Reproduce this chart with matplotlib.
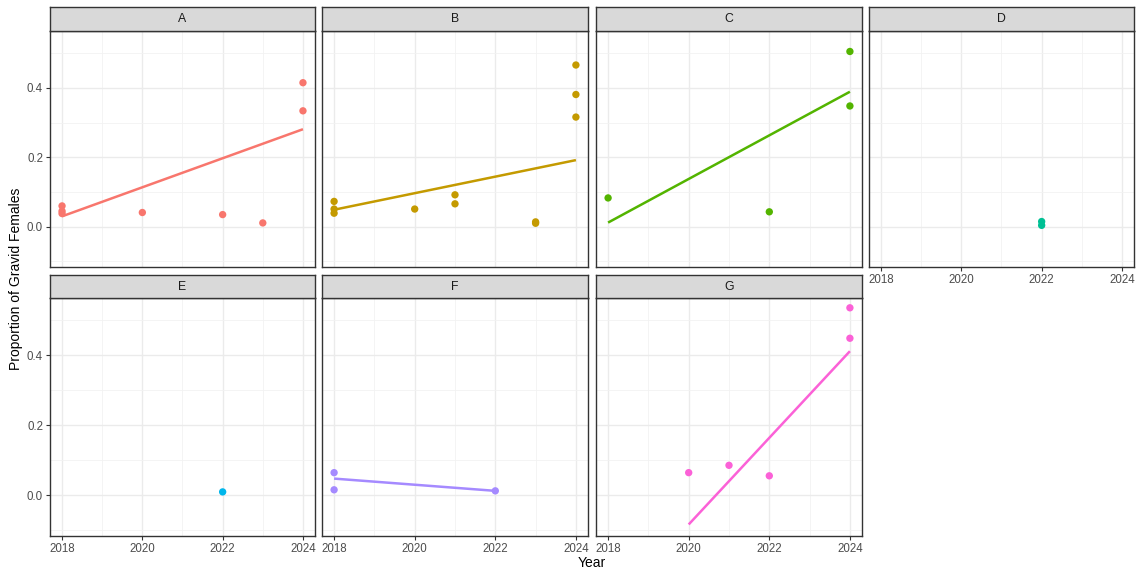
import matplotlib
matplotlib.use("Agg")
import matplotlib.pyplot as plt
import numpy as np

plt.rcParams['font.family'] = ['Liberation Sans', 'DejaVu Sans']

# ---- data ----
panels = ["A", "B", "C", "D", "E", "F", "G"]
colors = ["#F8766D", "#C49A00", "#53B400", "#00C094", "#00B6EB", "#A58AFF", "#FB61D7"]

years_A = [2018, 2018, 2018, 2020, 2022, 2023, 2024, 2024]
prop_A = [0.060, 0.045, 0.038, 0.041, 0.035, 0.011, 0.415, 0.334]
years_B = [2018, 2018, 2018, 2020, 2021, 2021, 2023, 2023, 2024, 2024, 2024]
prop_B = [0.073, 0.051, 0.039, 0.051, 0.092, 0.066, 0.014, 0.010, 0.466, 0.381, 0.316]
years_C = [2018, 2022, 2024, 2024]
prop_C = [0.083, 0.043, 0.505, 0.348]
years_D = [2022, 2022]
prop_D = [0.015, 0.004]
years_E = [2022]
prop_E = [0.010]
years_F = [2018, 2018, 2022]
prop_F = [0.065, 0.016, 0.013]
years_G = [2020, 2021, 2022, 2024, 2024]
prop_G = [0.065, 0.086, 0.056, 0.536, 0.449]

# fitted trend lines (start year, end year, start value, end value); None = no trend
trend_A = (2018, 2024, 0.030, 0.281)
trend_B = (2018, 2024, 0.049, 0.192)
trend_C = (2018, 2024, 0.012, 0.389)
trend_D = None
trend_E = None
trend_F = (2018, 2022, 0.048, 0.013)
trend_G = (2020, 2024, -0.083, 0.412)

series = {
    "A": (years_A, prop_A, trend_A),
    "B": (years_B, prop_B, trend_B),
    "C": (years_C, prop_C, trend_C),
    "D": (years_D, prop_D, trend_D),
    "E": (years_E, prop_E, trend_E),
    "F": (years_F, prop_F, trend_F),
    "G": (years_G, prop_G, trend_G),
}

x_ticks = [2018, 2020, 2022, 2024]
x_minor = [2019, 2021, 2023]
y_ticks = [0.0, 0.2, 0.4]
y_minor = [-0.1, 0.1, 0.3, 0.5]
x_title = "Year"
y_title = "Proportion of Gravid Females"

# ---- layout ----
W, H = 1137, 571
fig = plt.figure(figsize=(W / 100, H / 100), dpi=100)
fig.patch.set_facecolor("white")

col_px = [(50, 315), (322, 588), (596, 862), (869, 1134)]
row_px = [(7, 31, 267), (275, 298, 536)]  # strip top, strip bottom/panel top, panel bottom

xlim = (2017.7, 2024.3)
ylim = (-0.116, 0.564)

def fx(px):
    return px / W

def fy(py):
    return 1 - py / H

for i, name in enumerate(panels):
    r, c = divmod(i, 4)
    x0, x1 = col_px[c]
    st, sb, pb = row_px[r]
    ax = fig.add_axes([fx(x0), fy(pb), fx(x1 - x0), (pb - sb) / H])
    sax = fig.add_axes([fx(x0), fy(sb), fx(x1 - x0), (sb - st) / H])

    # strip
    sax.set_facecolor("#D9D9D9")
    sax.set_xticks([]); sax.set_yticks([])
    for s in sax.spines.values():
        s.set_color("#333333"); s.set_linewidth(1.0)
    sax.text(0.5, 0.5, name, ha="center", va="center", color="#1A1A1A",
             fontsize=8.8, transform=sax.transAxes)

    ax.set_xlim(*xlim); ax.set_ylim(*ylim)
    ax.set_facecolor("white")
    for v in x_ticks:
        ax.axvline(v, color="#EBEBEB", lw=1.0, zorder=0)
    for v in x_minor:
        ax.axvline(v, color="#F2F2F2", lw=0.6, zorder=0)
    for v in y_ticks:
        ax.axhline(v, color="#EBEBEB", lw=1.0, zorder=0)
    for v in y_minor:
        ax.axhline(v, color="#F2F2F2", lw=0.6, zorder=0)

    yrs, vals, trend = series[name]
    col = colors[i]
    if trend is not None:
        ax.plot([trend[0], trend[1]], [trend[2], trend[3]], color=col, lw=1.8,
                solid_capstyle="butt", zorder=2)
    ax.scatter(yrs, vals, s=28, color=col, edgecolors="none", zorder=3)

    for s in ax.spines.values():
        s.set_color("#333333"); s.set_linewidth(1.0)

    ax.set_xticks(x_ticks)
    ax.set_yticks(y_ticks)
    ax.tick_params(axis="both", length=3, width=0.8, color="#333333",
                   labelcolor="#4D4D4D", labelsize=8.3, pad=2)
    show_x = (r == 1) or (name == "D")
    show_y = (c == 0)
    if show_x:
        ax.set_xticklabels([str(v) for v in x_ticks])
    else:
        ax.tick_params(axis="x", length=0, labelbottom=False)
    if show_y:
        ax.set_yticklabels([f"{v:.1f}" for v in y_ticks])
    else:
        ax.tick_params(axis="y", length=0, labelleft=False)

fig.text(fx((50 + 1134) / 2), fy(563), x_title, ha="center", va="center",
         fontsize=10, color="black")
fig.text(fx(16), fy(279), y_title, ha="center", va="center",
         rotation=90, fontsize=10, color="black")

fig.savefig("out.png", dpi=100, facecolor="white")
